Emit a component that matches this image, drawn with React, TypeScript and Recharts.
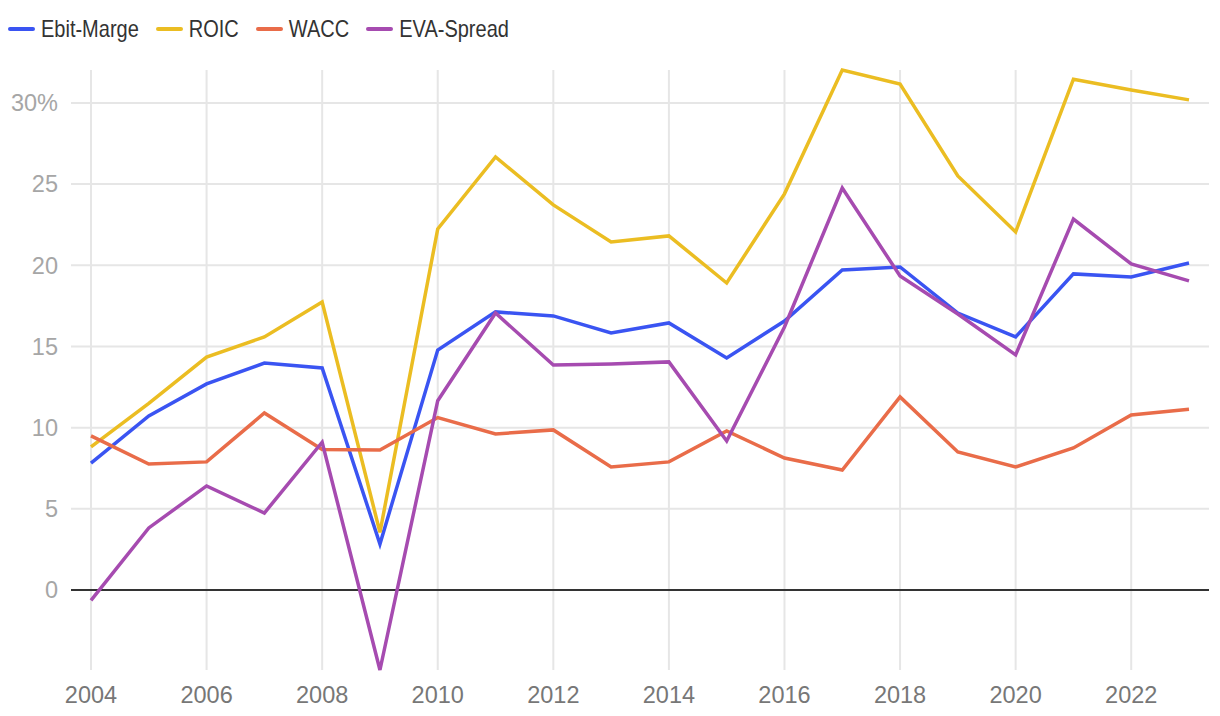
import { LineChart, Line, XAxis, YAxis, ReferenceLine, Legend } from "recharts";

const years = [2004, 2005, 2006, 2007, 2008, 2009, 2010, 2011, 2012, 2013, 2014, 2015, 2016, 2017, 2018, 2019, 2020, 2021, 2022, 2023];
const ebitMarge = [7.82, 10.72, 12.69, 13.98, 13.68, 2.83, 14.78, 17.13, 16.88, 15.83, 16.45, 14.29, 16.57, 19.71, 19.9, 17.06, 15.59, 19.47, 19.28, 20.14];
const roic = [8.81, 11.5, 14.35, 15.59, 17.74, 3.55, 22.24, 26.67, 23.72, 21.44, 21.81, 18.91, 24.4, 32.03, 31.17, 25.5, 22.05, 31.46, 30.8, 30.19];
const wacc = [9.49, 7.76, 7.89, 10.9, 8.65, 8.62, 10.62, 9.61, 9.86, 7.58, 7.89, 9.8, 8.13, 7.39, 11.89, 8.5, 7.58, 8.75, 10.78, 11.13];
const evaSpread = [-0.64, 3.82, 6.41, 4.74, 9.1, -4.93, 11.66, 17.06, 13.86, 13.92, 14.05, 9.18, 16.2, 24.76, 19.34, 17.0, 14.48, 22.85, 20.08, 19.04];

const xTicks = [2004, 2006, 2008, 2010, 2012, 2014, 2016, 2018, 2020, 2022];
const yTicks = [0, 5, 10, 15, 20, 25, 30];

const series = [
  { key: "ebit", name: "Ebit-Marge", color: "#3a54f2" },
  { key: "roic", name: "ROIC", color: "#ebbd22" },
  { key: "wacc", name: "WACC", color: "#e96c49" },
  { key: "eva", name: "EVA-Spread", color: "#a64bb0" },
];

const data = years.map((year, i) => ({
  year,
  ebit: ebitMarge[i],
  roic: roic[i],
  wacc: wacc[i],
  eva: evaSpread[i],
}));

const font = "'Liberation Sans', Arial, Helvetica, sans-serif";
const gridColor = "#e6e6e6";

function LegendBox() {
  return (
    <div style={{ height: 70, display: "flex", alignItems: "flex-start", paddingTop: 16, paddingLeft: 8, boxSizing: "border-box" }}>
      {series.map((s) => (
        <div key={s.key} style={{ display: "flex", alignItems: "center", marginRight: 17 }}>
          <svg width={27} height={8} style={{ marginRight: 6 }}>
            <line x1={2} y1={4} x2={25} y2={4} stroke={s.color} strokeWidth={4} strokeLinecap="round" />
          </svg>
          <span
            style={{
              display: "inline-block",
              fontFamily: font,
              fontSize: 20,
              color: "#333",
              lineHeight: "26px",
              transform: "scaleY(1.18)",
            }}
          >
            {s.name}
          </span>
        </div>
      ))}
    </div>
  );
}

export default function App() {
  return (
    <div style={{ position: "absolute", left: 0, top: 0, width: 1220, height: 716, background: "#fff" }}>
      <LineChart width={1220} height={716} data={data} margin={{ top: 0, right: 11, bottom: 0, left: 0 }}>
        <Legend verticalAlign="top" align="left" content={() => <LegendBox />} />
        <XAxis
          dataKey="year"
          type="number"
          domain={[2004, 2023]}
          ticks={xTicks}
          padding={{ left: 20, right: 20 }}
          axisLine={false}
          tickLine={false}
          tickSize={6}
          tickMargin={10}
          height={46}
          tick={{ fill: "#777", fontSize: 23.5, fontFamily: font }}
        />
        <YAxis
          domain={["dataMin", "dataMax"]}
          ticks={yTicks}
          width={71}
          axisLine={false}
          tickLine={false}
          tickSize={6}
          tickMargin={7}
          tickFormatter={(v) => (v === 30 ? "30%" : String(v))}
          tick={{ fill: "#a6a6a6", fontSize: 23.5, fontFamily: font }}
        />
        {/* grid drawn only at the tick values */}
        {xTicks.map((t) => (
          <ReferenceLine key={"vx" + t} x={t} stroke={gridColor} strokeWidth={2} />
        ))}
        {yTicks
          .filter((t) => t !== 0)
          .map((t) => (
            <ReferenceLine key={"hy" + t} y={t} stroke={gridColor} strokeWidth={2} />
          ))}
        <ReferenceLine y={0} stroke="#333" strokeWidth={2} />
        {series.map((s) => (
          <Line
            key={s.key}
            type="linear"
            dataKey={s.key}
            name={s.name}
            stroke={s.color}
            strokeWidth={3.5}
            dot={false}
            activeDot={false}
            isAnimationActive={false}
          />
        ))}
      </LineChart>
    </div>
  );
}
